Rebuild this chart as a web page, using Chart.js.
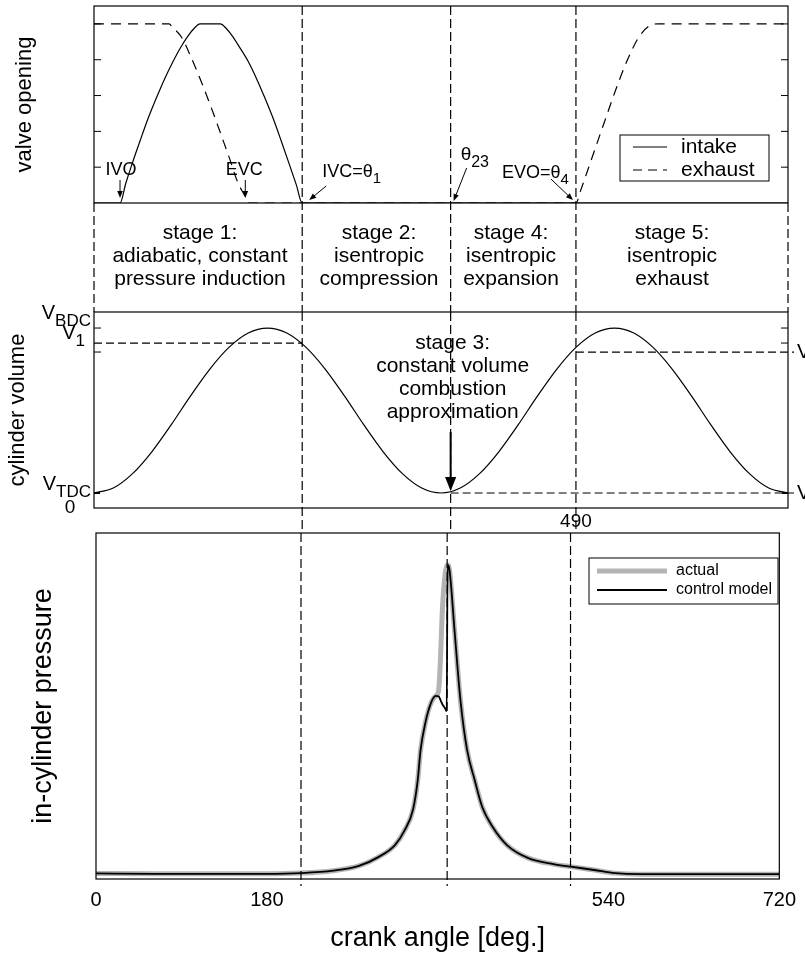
<!DOCTYPE html>
<html>
<head>
<meta charset="utf-8">
<script src="https://cdn.jsdelivr.net/npm/chart.js@4.4.1/dist/chart.umd.min.js"></script>
<style>
body { margin: 0; background: #fff; width: 805px; height: 955px; overflow: hidden; position: relative; }
canvas { position: absolute; left: 0; }
</style>
</head>
<body>
<canvas id="valveChart" width="805" height="320" style="top:0px"></canvas>
<canvas id="volumeChart" width="805" height="235" style="top:300px"></canvas>
<canvas id="pressureChart" width="805" height="430" style="top:525px"></canvas>
<script>
"use strict";

// Crank angles of the events [deg]
var ivoAngle = 27;
var evcAngle = 158;
var ivcAngle = 216;
var theta23Angle = 370;
var evoAngle = 500;
var evoLabel = "490";

// Valve opening (arbitrary units)
var intakeAngle = [0, 27, 33, 39, 48, 56, 65, 73, 82, 90, 98, 104, 110, 131, 137, 143, 151, 160, 169, 177, 186, 194, 203, 210, 216, 720];
var intakeLift = [0, 0, 0.55, 1.05, 1.75, 2.35, 2.95, 3.45, 3.95, 4.35, 4.68, 4.88, 5, 5, 4.88, 4.68, 4.35, 3.95, 3.45, 2.95, 2.35, 1.75, 1.05, 0.5, 0, 0];
var exhaustAngle = [0, 78, 81, 91, 101.5, 113.6, 124, 132.7, 141.3, 148.9, 156.9, 160, 500, 505, 517, 529, 541, 553, 565, 577, 585, 720];
var exhaustLift = [5, 5, 4.92, 4.62, 4.02, 3.23, 2.49, 1.84, 1.19, 0.59, 0.18, 0, 0, 0.36, 1.29, 2.22, 3.14, 3.97, 4.62, 4.96, 5, 5];
var valveTicks = [1, 2, 3, 4, 5];

// Cylinder volume
var volumeAngle = [0, 20, 40, 60, 80, 100, 120, 140, 160, 180, 200, 220, 240, 260, 280, 300, 320, 340, 360,
                   380, 400, 420, 440, 460, 480, 500, 520, 540, 560, 580, 600, 620, 640, 660, 680, 700, 720];
var cylinderVolume = [1.0, 1.33, 2.29, 3.75, 5.54, 7.46, 9.25, 10.71, 11.67, 12.0, 11.67, 10.71, 9.25, 7.46, 5.54, 3.75, 2.29, 1.33, 1.0,
                      1.33, 2.29, 3.75, 5.54, 7.46, 9.25, 10.71, 11.67, 12.0, 11.67, 10.71, 9.25, 7.46, 5.54, 3.75, 2.29, 1.33, 1.0];
var vTDC = 1.0;
var vBDC = 12.0;
var v1 = 11.0;
var v4 = 10.4;

// In-cylinder pressure
var pressureAngle = [0, 60, 120, 180, 216, 250, 277, 298, 315, 325, 334, 339, 342, 347, 353, 358, 361, 363, 365, 368,
                     369.5, 370.5, 372.5, 378, 384, 391, 399, 407, 418, 433, 455, 482, 502, 525, 547, 573, 620, 680, 720];
var modelPressure = [1.6, 1.5, 1.5, 1.5, 1.7, 2.4, 3.8, 6.4, 9.8, 14, 20, 28.6, 37.3, 45.1, 50.9, 52.9, 52.8, 51.7, 50.5, 49.2,
                     48.5, 90.8, 89.3, 71.1, 51.7, 37.3, 28.6, 20.8, 15, 9.8, 6.1, 4.3, 3.5, 2.6, 1.7, 1.4, 1.4, 1.4, 1.4];
var actualPressure = [1.6, 1.5, 1.5, 1.5, 1.7, 2.4, 3.8, 6.4, 9.8, 14, 20, 28.6, 37.3, 45.1, 50.9, 52.9, 54.5, 64, 78, 88.5,
                      90.3, 90.8, 89.3, 71.1, 51.7, 37.3, 28.6, 20.8, 15, 9.8, 6.1, 4.3, 3.5, 2.6, 1.7, 1.4, 1.4, 1.4, 1.4];

var xTicks = [0, 180, 540, 720];

// Stage descriptions
var stageLabels = [
    ["stage 1:", "adiabatic, constant", "pressure induction"],
    ["stage 2:", "isentropic", "compression"],
    ["stage 4:", "isentropic", "expansion"],
    ["stage 5:", "isentropic", "exhaust"]
];
var stage3Label = ["stage 3:", "constant volume", "combustion", "approximation"];

var FONT = '"Liberation Sans", Arial, Helvetica, sans-serif';
function font(px) { return px + "px " + FONT; }

function pts(xs, ys) {
    var out = [];
    for (var i = 0; i < xs.length; i++) {
        out.push({x: xs[i], y: ys[i]});
    }
    return out;
}

function line(ctx, x0, y0, x1, y1, width, dash) {
    ctx.save();
    ctx.strokeStyle = "#000";
    ctx.lineWidth = width;
    ctx.setLineDash(dash || []);
    ctx.beginPath();
    ctx.moveTo(x0, y0);
    ctx.lineTo(x1, y1);
    ctx.stroke();
    ctx.restore();
}

function frame(ctx, a) {
    ctx.save();
    ctx.strokeStyle = "#000";
    ctx.lineWidth = 1.2;
    ctx.strokeRect(a.left, a.top, a.right - a.left, a.bottom - a.top);
    ctx.restore();
}

function arrow(ctx, x0, y0, x1, y1, head, width) {
    var a = Math.atan2(y1 - y0, x1 - x0);
    var c = Math.cos(a), s = Math.sin(a);
    line(ctx, x0, y0, x1 - c * head * 0.7, y1 - s * head * 0.7, width);
    ctx.save();
    ctx.fillStyle = "#000";
    ctx.beginPath();
    ctx.moveTo(x1, y1);
    ctx.lineTo(x1 - head * c + head * 0.4 * s, y1 - head * s - head * 0.4 * c);
    ctx.lineTo(x1 - head * c - head * 0.4 * s, y1 - head * s + head * 0.4 * c);
    ctx.closePath();
    ctx.fill();
    ctx.restore();
}

function subText(ctx, x, y, main, sub, size, subSize, align) {
    ctx.save();
    ctx.font = font(size);
    var w1 = ctx.measureText(main).width;
    ctx.font = font(subSize);
    var w2 = ctx.measureText(sub).width;
    var x0 = x;
    if (align === "right") x0 = x - w1 - w2;
    if (align === "center") x0 = x - (w1 + w2) / 2;
    ctx.fillStyle = "#000";
    ctx.textAlign = "left";
    ctx.textBaseline = "middle";
    ctx.font = font(size);
    ctx.fillText(main, x0, y);
    ctx.font = font(subSize);
    ctx.fillText(sub, x0 + w1, y + size * 0.4);
    ctx.restore();
}

function textLines(ctx, arr, x, y0, step, size) {
    ctx.save();
    ctx.fillStyle = "#000";
    ctx.font = font(size);
    ctx.textAlign = "center";
    ctx.textBaseline = "middle";
    for (var i = 0; i < arr.length; i++) {
        ctx.fillText(arr[i], x, y0 + i * step);
    }
    ctx.restore();
}

function yTitle(ctx, text, x, y, size) {
    ctx.save();
    ctx.translate(x, y);
    ctx.rotate(-Math.PI / 2);
    ctx.font = font(size);
    ctx.fillStyle = "#000";
    ctx.textAlign = "center";
    ctx.textBaseline = "middle";
    ctx.fillText(text, 0, 0);
    ctx.restore();
}

var DASH_V = [9, 4];
var DASH_H = [8, 4];
var eventAngles = [ivcAngle, theta23Angle, evoAngle];

// Top panel: valve opening, stage descriptions below it
var valvePlugin = {
    id: "valveDecor",
    afterDraw: function(chart) {
        var ctx = chart.ctx, a = chart.chartArea;
        var xs = chart.scales.x, ys = chart.scales.y;
        frame(ctx, a);
        valveTicks.forEach(function(v) {
            var py = ys.getPixelForValue(v);
            line(ctx, a.left, py, a.left + 7, py, 1);
            line(ctx, a.right - 7, py, a.right, py, 1);
        });
        eventAngles.forEach(function(v) {
            var px = xs.getPixelForValue(v);
            line(ctx, px, a.top, px, 312, 1.2, DASH_V);
        });
        line(ctx, a.left, a.bottom, a.left, 312, 1.2, DASH_V);
        line(ctx, a.right, a.bottom, a.right, 312, 1.2, DASH_V);

        // legend
        var ds = chart.data.datasets;
        ctx.save();
        ctx.strokeStyle = "#000";
        ctx.lineWidth = 1;
        ctx.strokeRect(620, 135, 149, 46);
        ctx.restore();
        line(ctx, 633, 147, 667, 147, 1.2);
        line(ctx, 633, 170, 667, 170, 1.2, [9, 6]);
        ctx.save();
        ctx.font = font(21);
        ctx.fillStyle = "#000";
        ctx.textBaseline = "middle";
        ctx.fillText(ds[0].label, 681, 147);
        ctx.fillText(ds[1].label, 681, 170);
        ctx.restore();

        // event annotations
        var base = a.bottom;
        var pIVO = xs.getPixelForValue(ivoAngle);
        var pEVC = xs.getPixelForValue(evcAngle);
        var pIVC = xs.getPixelForValue(ivcAngle);
        var p23 = xs.getPixelForValue(theta23Angle);
        var pEVO = xs.getPixelForValue(evoAngle);
        ctx.save();
        ctx.font = font(18);
        ctx.fillStyle = "#000";
        ctx.textAlign = "center";
        ctx.textBaseline = "middle";
        ctx.fillText("IVO", pIVO + 1, base - 33);
        ctx.fillText("EVC", pEVC - 2, base - 33);
        ctx.restore();
        arrow(ctx, pIVO, base - 23, pIVO, base - 5, 7, 1);
        arrow(ctx, pEVC - 1, base - 23, pEVC - 1, base - 5, 7, 1);
        subText(ctx, pIVC + 20, base - 31, "IVC=\u03b8", "1", 18, 15, "left");
        arrow(ctx, pIVC + 24, base - 17, pIVC + 7, base - 3, 7, 1);
        subText(ctx, p23 + 10, base - 48, "\u03b8", "23", 19, 16, "left");
        arrow(ctx, p23 + 16, base - 35, p23 + 3, base - 2, 7, 1);
        subText(ctx, pEVO - 74, base - 30, "EVO=\u03b8", "4", 18, 15, "left");
        arrow(ctx, pEVO - 25, base - 24, pEVO - 3, base - 3, 7, 1);

        // stage descriptions
        var cx = [200, 379, 511, 672];
        stageLabels.forEach(function(lbl, i) {
            textLines(ctx, lbl, cx[i], 233, 23, 21);
        });

        yTitle(ctx, "valve opening", 25, (a.top + a.bottom) / 2, 22);
    }
};

// Middle panel: cylinder volume
var volumePlugin = {
    id: "volumeDecor",
    afterDraw: function(chart) {
        var ctx = chart.ctx, a = chart.chartArea;
        var xs = chart.scales.x, ys = chart.scales.y;
        frame(ctx, a);
        eventAngles.forEach(function(v) {
            var px = xs.getPixelForValue(v);
            line(ctx, px, 12, px, 233, 1.2, DASH_V);
        });
        var yB = ys.getPixelForValue(vBDC), yT = ys.getPixelForValue(vTDC);
        var y1 = ys.getPixelForValue(v1), y4 = ys.getPixelForValue(v4);
        var pIVC = xs.getPixelForValue(ivcAngle);
        var p23 = xs.getPixelForValue(theta23Angle);
        var pEVO = xs.getPixelForValue(evoAngle);
        line(ctx, a.left, y1, pIVC, y1, 1.2, DASH_H);
        line(ctx, pEVO, y4, a.right + 6, y4, 1.2, DASH_H);
        line(ctx, p23, yT, a.right + 6, yT, 1.2, DASH_H);

        line(ctx, a.left, yB, a.left + 7, yB, 1);
        line(ctx, a.left, y4, a.left + 7, y4, 1);
        line(ctx, a.left, yT, a.left + 6, yT, 2);
        line(ctx, a.right - 7, yB, a.right, yB, 1);
        line(ctx, a.right - 7, y1, a.right, y1, 1);
        line(ctx, a.right - 6, yT, a.right, yT, 2);

        subText(ctx, 91, yB - 15, "V", "BDC", 20, 17, "right");
        subText(ctx, 85, y1 - 10, "V", "1", 20, 17, "right");
        subText(ctx, 91, yT - 9, "V", "TDC", 20, 17, "right");
        ctx.save();
        ctx.font = font(19);
        ctx.fillStyle = "#000";
        ctx.textAlign = "center";
        ctx.textBaseline = "middle";
        ctx.fillText("0", 70, a.bottom);
        ctx.fillText(evoLabel, pEVO, a.bottom + 14);
        ctx.restore();
        subText(ctx, 797, y4, "V", "4", 20, 17, "left");
        subText(ctx, 797, yT, "V", "TDC", 20, 17, "left");

        textLines(ctx, stage3Label, p23 + 2, a.top + 31, 23, 21);
        arrow(ctx, p23, a.top + 120, p23, yT - 2, 14, 2);

        yTitle(ctx, "cylinder volume", 18, (a.top + a.bottom) / 2, 22);
    }
};

// Bottom panel: in-cylinder pressure
var pressurePlugin = {
    id: "pressureDecor",
    afterDraw: function(chart) {
        var ctx = chart.ctx, a = chart.chartArea;
        var xs = chart.scales.x;
        frame(ctx, a);
        eventAngles.forEach(function(v) {
            var px = xs.getPixelForValue(v);
            line(ctx, px, a.top, px, a.bottom + 7, 1.2, DASH_V);
        });
        // legend
        var ds = chart.data.datasets;
        ctx.save();
        ctx.strokeStyle = "#000";
        ctx.lineWidth = 1;
        ctx.strokeRect(589, a.top + 25, 189, 46);
        ctx.restore();
        ctx.save();
        ctx.strokeStyle = ds[1].borderColor;
        ctx.lineWidth = ds[1].borderWidth;
        ctx.beginPath();
        ctx.moveTo(597, a.top + 38);
        ctx.lineTo(667, a.top + 38);
        ctx.stroke();
        ctx.restore();
        line(ctx, 597, a.top + 57, 667, a.top + 57, 1.8);
        ctx.save();
        ctx.font = font(16);
        ctx.fillStyle = "#000";
        ctx.textBaseline = "middle";
        ctx.fillText(ds[1].label, 676, a.top + 38);
        ctx.fillText(ds[0].label, 676, a.top + 57);
        ctx.restore();

        yTitle(ctx, "in-cylinder pressure", 44, (a.top + a.bottom) / 2, 27);
    }
};

function baseOptions(padding, yMin, yMax) {
    return {
        responsive: false,
        animation: false,
        events: [],
        layout: {padding: padding},
        plugins: {legend: {display: false}, tooltip: {enabled: false}},
        scales: {
            x: {type: "linear", min: 0, max: 720, display: false},
            y: {type: "linear", min: yMin, max: yMax, display: false}
        }
    };
}

function init() {
    new Chart(document.getElementById("valveChart"), {
        type: "line",
        data: {
            datasets: [{
                label: "intake",
                data: pts(intakeAngle, intakeLift),
                borderColor: "#000",
                borderWidth: 1.2,
                pointRadius: 0,
                cubicInterpolationMode: "monotone"
            }, {
                label: "exhaust",
                data: pts(exhaustAngle, exhaustLift),
                borderColor: "#000",
                borderWidth: 1.2,
                borderDash: [10, 7],
                pointRadius: 0,
                cubicInterpolationMode: "monotone"
            }]
        },
        options: baseOptions({left: 94, right: 17, top: 6, bottom: 117}, 0, 5.5),
        plugins: [valvePlugin]
    });

    new Chart(document.getElementById("volumeChart"), {
        type: "line",
        data: {
            datasets: [{
                label: "cylinder volume",
                data: pts(volumeAngle, cylinderVolume),
                borderColor: "#000",
                borderWidth: 1.2,
                pointRadius: 0,
                cubicInterpolationMode: "monotone"
            }]
        },
        options: baseOptions({left: 94, right: 17, top: 12, bottom: 27}, 0, 13.07),
        plugins: [volumePlugin]
    });

    var opts = baseOptions({left: 96, right: 21, top: 8, bottom: 0}, 0, 100);
    opts.scales.x = {
        type: "linear",
        min: 0,
        max: 720,
        grid: {display: false, drawTicks: false},
        border: {display: false},
        afterBuildTicks: function(scale) {
            scale.ticks = xTicks.map(function(v) { return {value: v}; });
        },
        afterFit: function(scale) { scale.height = 76; },
        ticks: {
            autoSkip: false,
            maxRotation: 0,
            padding: 9,
            color: "#000",
            font: {family: FONT, size: 20}
        },
        title: {
            display: true,
            text: "crank angle [deg.]",
            color: "#000",
            padding: 0,
            font: {family: FONT, size: 27}
        }
    };
    new Chart(document.getElementById("pressureChart"), {
        type: "line",
        data: {
            datasets: [{
                label: "control model",
                data: pts(pressureAngle, modelPressure),
                borderColor: "#000",
                borderWidth: 1.8,
                pointRadius: 0,
                cubicInterpolationMode: "monotone"
            }, {
                label: "actual",
                data: pts(pressureAngle, actualPressure),
                borderColor: "#b4b4b4",
                borderWidth: 5,
                pointRadius: 0,
                cubicInterpolationMode: "monotone"
            }]
        },
        options: opts,
        plugins: [pressurePlugin]
    });
}

window.onload = init;
</script>
</body>
</html>
